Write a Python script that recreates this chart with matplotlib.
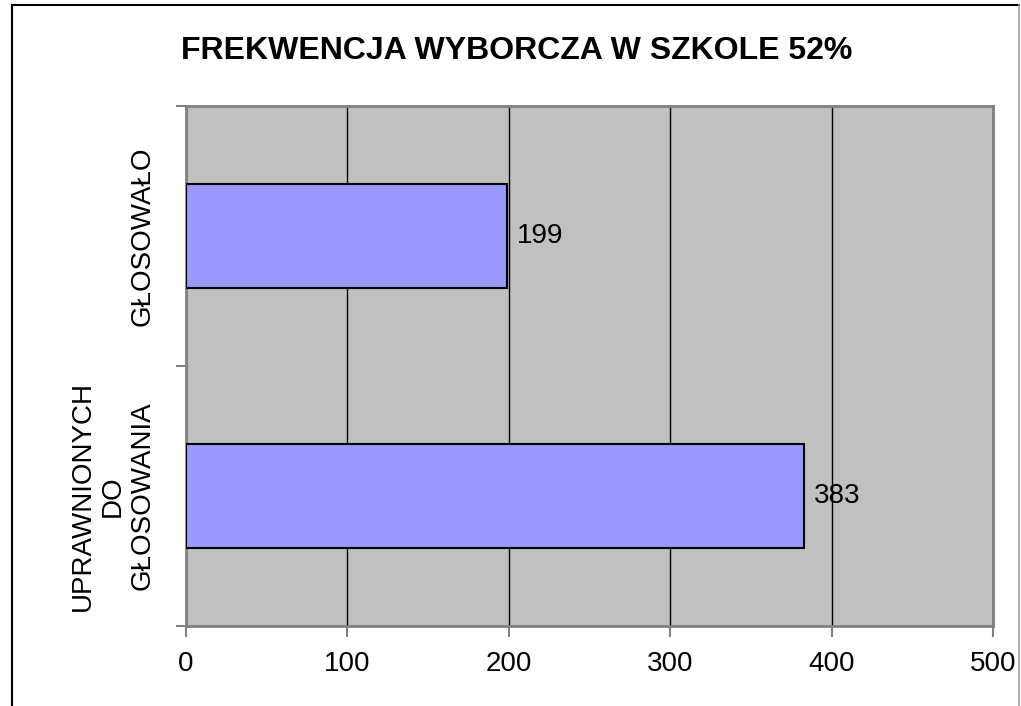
import matplotlib.pyplot as plt
from matplotlib.lines import Line2D

# dane
kategorie = ['UPRAWNIONYCH\nDO\nGŁOSOWANIA', 'GŁOSOWAŁO']
wartosci = [383, 199]
x_ticks = [0, 100, 200, 300, 400, 500]
tytul = 'FREKWENCJA WYBORCZA W SZKOLE 52%'

plt.rcParams['font.family'] = ['Liberation Sans', 'DejaVu Sans']

W, H = 1021, 706
fig = plt.figure(figsize=(W / 100, H / 100), dpi=100)
fig.patch.set_facecolor('white')

# ramka wykresu
fig.add_artist(Line2D([12 / W, 12 / W], [0, 1 - 5 / H], color='black', lw=1.5))
fig.add_artist(Line2D([12 / W, 1019 / W], [1 - 5 / H, 1 - 5 / H], color='black', lw=1.5))
fig.add_artist(Line2D([1019 / W, 1019 / W], [0, 1 - 5 / H], color='#a0a0a0', lw=1.2))

ax = fig.add_axes([186 / W, (H - 626) / H, 807 / W, 520 / H])
ax.set_facecolor('#c0c0c0')

y = range(len(kategorie))
ax.barh(y, wartosci, height=0.4, color='#9999ff', edgecolor='black', linewidth=1.5, zorder=3)
for yi, v in zip(y, wartosci):
    ax.text(v + 6, yi, str(v), va='center', ha='left', fontsize=20, zorder=4)

ax.set_xlim(0, 500)
ax.set_ylim(-0.5, 1.5)
ax.set_xticks(x_ticks)
ax.set_xticklabels([str(t) for t in x_ticks], fontsize=20)
ax.xaxis.grid(True, color='black', linewidth=1, zorder=1)
ax.set_axisbelow(True)

# etykiety kategorii obrócone
ax.set_yticks([-0.5, 0.5, 1.5])
ax.set_yticklabels([])
ax.set_yticks(list(y), minor=True)
ax.set_yticklabels(kategorie, minor=True, rotation=90, fontsize=20,
                   va='center', ha='right', multialignment='center')
ax.tick_params(axis='y', which='minor', length=0, pad=22)
ax.tick_params(axis='y', which='major', length=7, width=1.5, color='#808080')
ax.tick_params(axis='x', length=8, width=1.5, color='#808080', pad=10)

for s in ax.spines.values():
    s.set_color('#808080')
    s.set_linewidth(2)

fig.text(517 / W, 1 - 51 / H, tytul, ha='center', va='center', fontsize=23, fontweight='bold')

fig.savefig('out.png', dpi=100)
